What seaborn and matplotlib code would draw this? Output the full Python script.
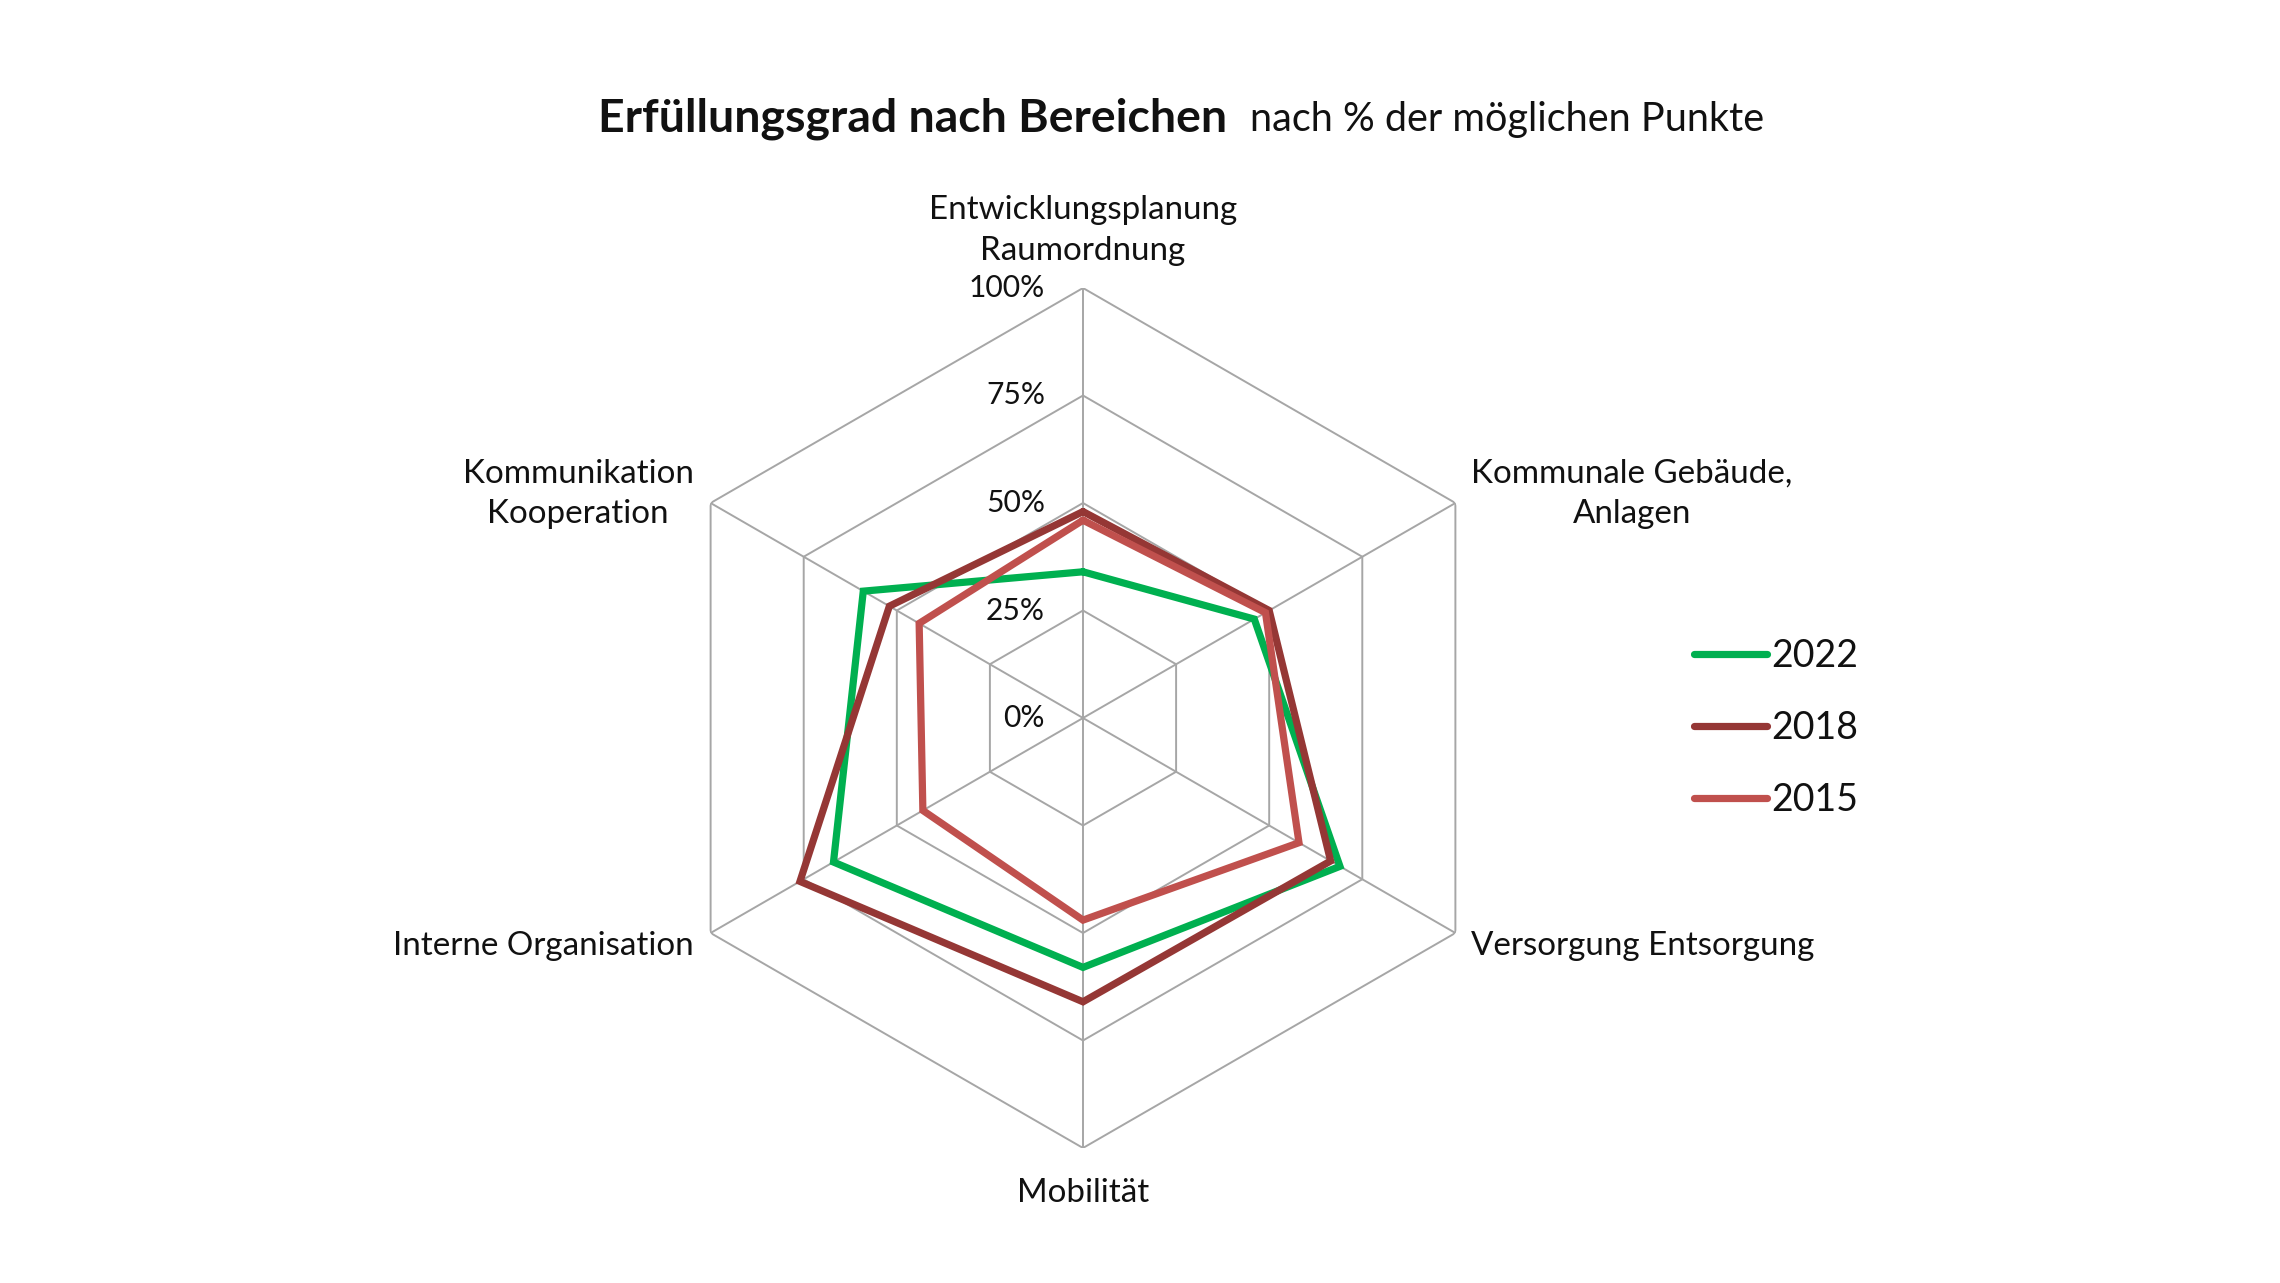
import numpy as np
import pandas as pd
import matplotlib
matplotlib.use("Agg")
import matplotlib.pyplot as plt
from matplotlib.lines import Line2D
import seaborn as sns

# ---------------- data ----------------
categories = ["Entwicklungsplanung\nRaumordnung",
              "Kommunale Gebäude,\nAnlagen",
              "Versorgung Entsorgung",
              "Mobilität",
              "Interne Organisation",
              "Kommunikation\nKooperation"]
values_2022 = [34, 46, 69, 58, 67, 59]
values_2018 = [48, 50, 66.5, 66, 76, 52]
values_2015 = [46, 49, 58, 47, 43, 44]
years = ["2022", "2018", "2015"]
colors = ["#00B050", "#953735", "#C0504D"]
rticks = [0, 25, 50, 75, 100]
rtick_labels = ["0%", "25%", "50%", "75%", "100%"]
title_bold = "Erfüllungsgrad nach Bereichen"
title_sub = "nach % der möglichen Punkte"

# ---------------- style ----------------
sns.set_theme(style="white")
plt.rcParams["font.family"] = ["Lato", "DejaVu Sans"]
TXT = "#111111"
GRID = "#A6A6A6"

W, H = 2280, 1283
fig = plt.figure(figsize=(W / 100, H / 100), dpi=100)
fig.patch.set_facecolor("white")
cx, cy, R = 1083, 718, 430
ax = fig.add_axes([(cx - R) / W, (H - cy - R) / H, 2 * R / W, 2 * R / H],
                  projection="polar")
ax.set_theta_offset(np.pi / 2)
ax.set_theta_direction(-1)
ax.set_ylim(0, 100)
ax.grid(False)
ax.spines["polar"].set_visible(False)
ax.set_xticks([])
ax.set_yticks([])
ax.patch.set_alpha(0)

n = len(categories)
angles = np.arange(n) * 2 * np.pi / n
closed = np.append(angles, angles[0])

# hexagonal grid
for r in rticks[1:]:
    ax.plot(closed, [r] * (n + 1), color=GRID, lw=1.4, zorder=1,
            solid_joinstyle="miter")
for a in angles:
    ax.plot([a, a], [0, 100], color=GRID, lw=1.4, zorder=1)

# data frame (closed polygons)
rows = []
for y, vals in zip(years, [values_2022, values_2018, values_2015]):
    vv = list(vals) + [vals[0]]
    for i, (t, v) in enumerate(zip(closed, vv)):
        rows.append({"year": y, "theta": t, "value": v, "order": i})
df = pd.DataFrame(rows)

sns.lineplot(data=df, x="theta", y="value", hue="year", hue_order=years,
             palette=colors, sort=False, estimator=None, linewidth=5.2,
             legend=False, ax=ax, zorder=3)
for ln in ax.get_lines()[-3:]:
    ln.set_solid_joinstyle("miter")
ax.set_xlabel("")
ax.set_ylabel("")
ax.set_xticks([])
ax.set_yticks([])

# radial labels
rtexts = []
for r, lab in zip(rticks, rtick_labels):
    t = ax.annotate(lab, xy=(0, r), xytext=(-38, 0), textcoords="offset pixels",
                    ha="right", va="center", fontsize=22, color=TXT,
                    annotation_clip=False)
    rtexts.append(t)

# category labels
offsets = [((0, 22), "center", "bottom"),
           ((16, 9), "left", "center"),
           ((16, -13), "left", "center"),
           ((0, -30), "center", "top"),
           ((-17, -13), "right", "center"),
           ((-17, 9), "right", "center")]
ctexts = []
for a, lab, (off, ha, va) in zip(angles, categories, offsets):
    t = ax.annotate(lab, xy=(a, 100), xytext=off, textcoords="offset pixels",
                    ha=ha, va=va, multialignment="center", fontsize=22,
                    color=TXT, annotation_clip=False, linespacing=1.45)
    ctexts.append(t)

# title
tb = fig.text(598 / W, 1 - 131 / H, title_bold, fontsize=28, fontweight="bold",
              ha="left", va="baseline", color=TXT)
ts = fig.text(1250 / W, 1 - 131 / H, title_sub, fontsize=22,
              ha="left", va="baseline", color=TXT)

# legend
handles = [Line2D([0], [0], color=c, lw=5.2, solid_capstyle="round") for c in colors]
leg = fig.legend(handles, years, loc="center left",
                 bbox_to_anchor=(1694 / W, 1 - 728 / H), frameon=False,
                 borderaxespad=0, borderpad=0, fontsize=27,
                 handlelength=1.95, handletextpad=0.12, labelspacing=0.97)
for t in leg.get_texts():
    t.set_color(TXT)

# ---- fit font sizes to measured widths ----
fig.canvas.draw()
rend = fig.canvas.get_renderer()

def scale_for(t, target):
    w = t.get_window_extent(rend).width
    return t.get_fontsize() * target / w

s_cat = scale_for(ctexts[0], 307)
for t in ctexts:
    t.set_fontsize(s_cat)
s_r = scale_for(rtexts[-1], 76)
for t in rtexts:
    t.set_fontsize(s_r)
tb.set_fontsize(scale_for(tb, 628))
ts.set_fontsize(scale_for(ts, 513))
s_leg = scale_for(leg.get_texts()[0], 87)
for t in leg.get_texts():
    t.set_fontsize(s_leg)

fig.savefig("out.png", dpi=100, facecolor="white")
